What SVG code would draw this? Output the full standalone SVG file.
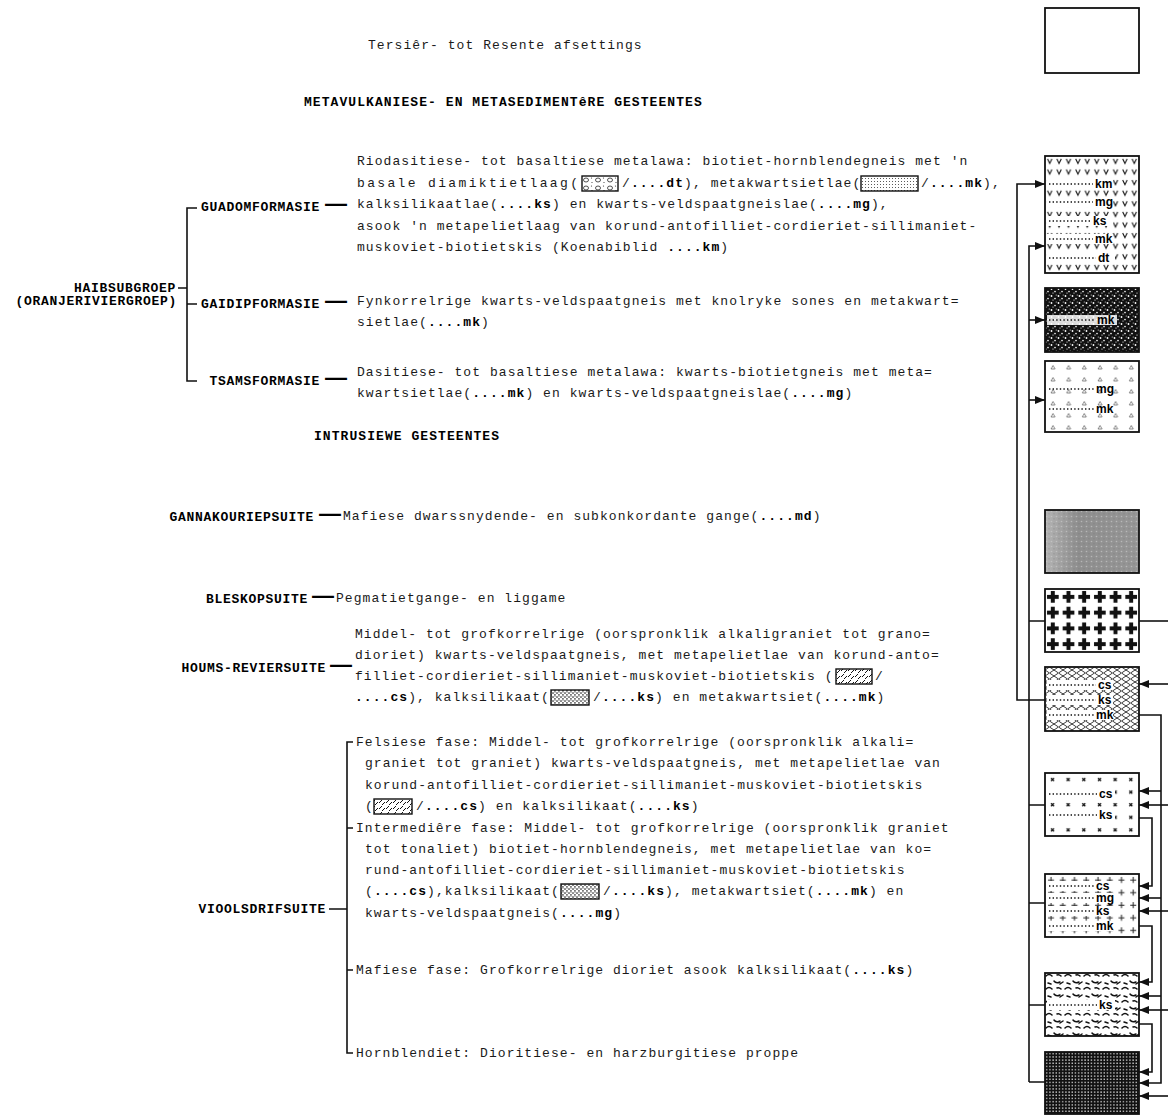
<svg xmlns="http://www.w3.org/2000/svg" width="1168" height="1115" viewBox="0 0 1168 1115">
<defs>
<style>
.t{font-family:"Liberation Mono","DejaVu Sans Mono",monospace;font-size:13px;letter-spacing:1.06px;fill:#1a1a1a}
.b{font-weight:bold;fill:#000}
.lab{font-family:"Liberation Mono","DejaVu Sans Mono",monospace;font-size:13px;font-weight:bold;letter-spacing:0.7px;fill:#000}
.dash{font-family:"Liberation Sans",Arial,sans-serif;font-size:22px;letter-spacing:0}
.ln{stroke:#111;stroke-width:1.6;fill:none}
.box{stroke:#111;stroke-width:1.8}
.ibox{stroke:#111;stroke-width:1.4}
.code{font-family:"Liberation Sans",Arial,sans-serif;font-weight:bold;font-size:12px;fill:#000}
.dot{stroke:#111;stroke-width:1.4;stroke-dasharray:1.4 2.2;fill:none}
.band{fill:#fff}
</style>
<marker id="ah" markerWidth="10" markerHeight="8" refX="10" refY="4" orient="auto" markerUnits="userSpaceOnUse"><path d="M0,0 L10,4 L0,8 z" fill="#111"/></marker>
<pattern id="pV" patternUnits="userSpaceOnUse" x="1045" y="156" width="9.4" height="10.6"><rect width="9.4" height="10.6" fill="#fff"/><path d="M2.5,3 L4.7,7.5 L6.9,3" fill="none" stroke="#111" stroke-width="1.1"/></pattern>
<pattern id="pDark" patternUnits="userSpaceOnUse" x="0" y="0" width="7" height="7"><rect width="7" height="7" fill="#111"/><circle cx="1.5" cy="2" r="0.9" fill="#fff"/><circle cx="5" cy="4.6" r="0.8" fill="#fff"/><circle cx="3" cy="6" r="0.6" fill="#fff"/><circle cx="6.2" cy="1" r="0.5" fill="#fff"/></pattern>
<pattern id="pTri" patternUnits="userSpaceOnUse" x="1045" y="361" width="15.67" height="12"><rect width="15.67" height="12" fill="#fff"/><path d="M6,8 L8,4.5 L10,8 Z" fill="none" stroke="#555" stroke-width="0.7"/></pattern>
<pattern id="pGreyDots" patternUnits="userSpaceOnUse" x="0" y="0" width="5" height="5"><circle cx="1.5" cy="1.5" r="0.8" fill="#d0d0d0" fill-opacity="0.6"/><circle cx="4" cy="3.8" r="0.6" fill="#666" fill-opacity="0.5"/></pattern>
<linearGradient id="gGrey" x1="0" y1="0" x2="1" y2="0"><stop offset="0" stop-color="#b4b4b4"/><stop offset="0.35" stop-color="#8e8e8e"/><stop offset="1" stop-color="#969696"/></linearGradient>
<pattern id="pCross" patternUnits="userSpaceOnUse" x="1045" y="589" width="15.67" height="15.75"><rect width="15.67" height="15.75" fill="#fff"/><rect x="2" y="5.9" width="11.7" height="4" fill="#111"/><rect x="5.8" y="2" width="4" height="11.7" fill="#111"/></pattern>
<pattern id="pLat" patternUnits="userSpaceOnUse" x="1045" y="667" width="9" height="6"><rect width="9" height="6" fill="#fff"/><path d="M0,3 L4.5,0 L9,3 L4.5,6 Z" fill="none" stroke="#222" stroke-width="0.9"/></pattern>
<pattern id="pX" patternUnits="userSpaceOnUse" x="1045" y="773" width="15.67" height="12.6"><rect width="15.67" height="12.6" fill="#fff"/><path d="M6,5 l3,3 M9,5 l-3,3" stroke="#111" stroke-width="1.3"/></pattern>
<pattern id="pPlus" patternUnits="userSpaceOnUse" x="1045" y="874" width="11.75" height="12.6"><rect width="11.75" height="12.6" fill="#fff"/><path d="M6,3 v6 M3,6 h6" stroke="#222" stroke-width="1"/></pattern>
<pattern id="pWorm" patternUnits="userSpaceOnUse" x="1045" y="973" width="19" height="13"><rect width="19" height="13" fill="#fff"/><path d="M1,3 q3,-3 6,0 M9,8 q2,3 6,1 M3,10 l3,1 M12,2 q2,-1 4,1 M15,11 l3,-2" fill="none" stroke="#111" stroke-width="1.5" stroke-linecap="round"/></pattern>
<pattern id="pGrid" patternUnits="userSpaceOnUse" x="1045" y="1052" width="3.2" height="3.2"><rect width="3.2" height="3.2" fill="#111"/><rect x="1.1" y="1.1" width="1.2" height="1.2" fill="#fff"/></pattern>
<pattern id="pDiam" patternUnits="userSpaceOnUse" x="582" y="176" width="12" height="8"><rect width="12" height="8" fill="#fff"/><ellipse cx="4" cy="4" rx="2.5" ry="2" fill="none" stroke="#222" stroke-width="0.8"/><circle cx="9.5" cy="2" r="0.6" fill="#333"/><circle cx="10" cy="6.5" r="0.6" fill="#333"/></pattern>
<pattern id="pFine" patternUnits="userSpaceOnUse" x="0" y="0" width="3" height="3"><rect width="3" height="3" fill="#fff"/><rect x="1" y="1" width="0.9" height="0.9" fill="#333"/></pattern>
<pattern id="pSchist" patternUnits="userSpaceOnUse" x="0" y="0" width="7" height="6"><rect width="7" height="6" fill="#fff"/><path d="M1,5 l3,-3 M5,6 l2,-2 M4,1 l1,-1" stroke="#111" stroke-width="1"/></pattern>
<pattern id="pSpeck" patternUnits="userSpaceOnUse" x="0" y="0" width="4" height="4"><rect width="4" height="4" fill="#fff"/><rect x="0.3" y="0.4" width="1.4" height="1.3" fill="#111"/><rect x="2.3" y="2.2" width="1.3" height="1.4" fill="#111"/><rect x="2.6" y="0.2" width="0.8" height="0.8" fill="#555"/></pattern>
</defs>
<rect width="1168" height="1115" fill="#fff"/>

<g id="headings">
<text class="t" x="368" y="49">Tersiêr- tot Resente afsettings</text>
<text class="t b" x="304" y="106">METAVULKANIESE- EN METASEDIMENTêRE GESTEENTES</text>
<text class="t b" x="314" y="440">INTRUSIEWE GESTEENTES</text>
</g>

<g id="brackets" class="ln">
<path d="M197,208 H187 V381 H197 M187,304 H197 M178,288 H187"/>
<path d="M353,742 H347 V1053 H353 M347,828 H353 M347,970 H353 M329,909 H347"/>
</g>

<g id="haibsubgroep">
<text class="lab" x="176" y="292" text-anchor="end">HAIBSUBGROEP</text>
<text class="lab" x="177" y="305" text-anchor="end">(ORANJERIVIERGROEP)</text>
</g>

<g id="guadom">
<text class="lab" x="347" y="211" text-anchor="end">GUADOMFORMASIE<tspan class="dash" dx="5">—</tspan></text>
<text class="t" x="357" y="165">Riodasitiese- tot basaltiese metalawa: biotiet-hornblendegneis met 'n</text>
<text class="t" x="357" y="187" textLength="222" lengthAdjust="spacing">basale diamiktietlaag(</text>
<rect x="582" y="176" width="36" height="15" fill="url(#pDiam)" class="ibox"/>
<text class="t" x="622" y="187">/<tspan class="b">....dt</tspan>), metakwartsietlae(</text>
<rect x="861" y="176" width="57" height="15" fill="url(#pFine)" class="ibox"/>
<text class="t" x="921" y="187">/<tspan class="b">....mk</tspan>),</text>
<text class="t" x="357" y="208">kalksilikaatlae(<tspan class="b">....ks</tspan>) en kwarts-veldspaatgneislae(<tspan class="b">....mg</tspan>),</text>
<text class="t" x="357" y="230">asook 'n metapelietlaag van korund-antofilliet-cordieriet-sillimaniet-</text>
<text class="t" x="357" y="251">muskoviet-biotietskis (Koenabiblid <tspan class="b">....km</tspan>)</text>
</g>

<g id="gaidip">
<text class="lab" x="347" y="308" text-anchor="end">GAIDIPFORMASIE<tspan class="dash" dx="5">—</tspan></text>
<text class="t" x="357" y="305">Fynkorrelrige kwarts-veldspaatgneis met knolryke sones en metakwart=</text>
<text class="t" x="357" y="326">sietlae(<tspan class="b">....mk</tspan>)</text>
</g>

<g id="tsams">
<text class="lab" x="347" y="385" text-anchor="end">TSAMSFORMASIE<tspan class="dash" dx="5">—</tspan></text>
<text class="t" x="357" y="376">Dasitiese- tot basaltiese metalawa: kwarts-biotietgneis met meta=</text>
<text class="t" x="357" y="397">kwartsietlae(<tspan class="b">....mk</tspan>) en kwarts-veldspaatgneislae(<tspan class="b">....mg</tspan>)</text>
</g>

<g id="gannakouriep">
<text class="lab" x="341" y="521" text-anchor="end">GANNAKOURIEPSUITE<tspan class="dash" dx="5">—</tspan></text>
<text class="t" x="343" y="520">Mafiese dwarssnydende- en subkonkordante gange(<tspan class="b">....md</tspan>)</text>
</g>

<g id="bleskop">
<text class="lab" x="334" y="603" text-anchor="end">BLESKOPSUITE<tspan class="dash" dx="4">—</tspan></text>
<text class="t" x="336" y="602">Pegmatietgange- en liggame</text>
</g>

<g id="houms">
<text class="lab" x="352" y="672" text-anchor="end">HOUMS-REVIERSUITE<tspan class="dash" dx="4">—</tspan></text>
<text class="t" x="355" y="638">Middel- tot grofkorrelrige (oorspronklik alkaligraniet tot grano=</text>
<text class="t" x="355" y="659">dioriet)  kwarts-veldspaatgneis, met metapelietlae van korund-anto=</text>
<text class="t" x="355" y="680">filliet-cordieriet-sillimaniet-muskoviet-biotietskis (</text>
<rect x="836" y="669" width="36" height="15" fill="url(#pSchist)" class="ibox"/>
<text class="t" x="875" y="680">/</text>
<text class="t" x="355" y="701"><tspan class="b">....cs</tspan>), kalksilikaat(</text>
<rect x="551" y="690" width="38" height="15" fill="url(#pSpeck)" class="ibox"/>
<text class="t" x="593" y="701">/<tspan class="b">....ks</tspan>) en metakwartsiet(<tspan class="b">....mk</tspan>)</text>
</g>

<g id="vioolsdrif">
<text class="lab" x="326" y="913" text-anchor="end">VIOOLSDRIFSUITE</text>
<g id="felsies">
<text class="t" x="356" y="746">Felsiese fase: Middel- tot grofkorrelrige (oorspronklik alkali=</text>
<text class="t" x="365" y="767">graniet tot graniet) kwarts-veldspaatgneis, met metapelietlae van</text>
<text class="t" x="365" y="789">korund-antofilliet-cordieriet-sillimaniet-muskoviet-biotietskis</text>
<text class="t" x="365" y="810">(</text>
<rect x="374" y="799" width="38" height="15" fill="url(#pSchist)" class="ibox"/>
<text class="t" x="416" y="810">/<tspan class="b">....cs</tspan>) en kalksilikaat(<tspan class="b">....ks</tspan>)</text>
</g>
<g id="intermediere">
<text class="t" x="356" y="832">Intermediêre fase: Middel- tot grofkorrelrige (oorspronklik graniet</text>
<text class="t" x="365" y="853">tot tonaliet) biotiet-hornblendegneis, met metapelietlae van ko=</text>
<text class="t" x="365" y="874">rund-antofilliet-cordieriet-sillimaniet-muskoviet-biotietskis</text>
<text class="t" x="365" y="895">(<tspan class="b">....cs</tspan>),kalksilikaat(</text>
<rect x="561" y="884" width="38" height="15" fill="url(#pSpeck)" class="ibox"/>
<text class="t" x="603" y="895">/<tspan class="b">....ks</tspan>), metakwartsiet(<tspan class="b">....mk</tspan>) en</text>
<text class="t" x="365" y="917">kwarts-veldspaatgneis(<tspan class="b">....mg</tspan>)</text>
</g>
<g id="mafies">
<text class="t" x="356" y="974">Mafiese fase: Grofkorrelrige dioriet asook kalksilikaat(<tspan class="b">....ks</tspan>)</text>
</g>
<g id="hornblendiet">
<text class="t" x="356" y="1057">Hornblendiet: Dioritiese- en harzburgitiese proppe</text>
</g>
</g>

<g id="legend">
<g id="leg-tersier"><rect x="1045" y="8" width="94" height="65" fill="#fff" class="box"/></g>
<g id="leg-guadom">
<rect x="1045" y="156" width="94" height="117" fill="url(#pV)" class="box"/>
<rect x="1047" y="179" width="66" height="10" class="band"/><line x1="1049" y1="184" x2="1093" y2="184" class="dot"/><text class="code" x="1095" y="188">km</text>
<rect x="1047" y="197" width="66" height="10" class="band"/><line x1="1049" y1="202" x2="1093" y2="202" class="dot"/><text class="code" x="1095" y="206">mg</text>
<rect x="1047" y="216" width="66" height="10" class="band"/><line x1="1049" y1="221" x2="1092" y2="221" class="dot"/><text class="code" x="1093" y="225">ks</text>
<rect x="1047" y="234" width="66" height="10" class="band"/><line x1="1049" y1="239" x2="1093" y2="239" class="dot"/><text class="code" x="1095" y="243">mk</text>
<rect x="1047" y="253" width="68" height="10" class="band"/><line x1="1049" y1="258" x2="1096" y2="258" class="dot"/><text class="code" x="1098" y="262">dt</text>
</g>
<g id="leg-gaidip">
<rect x="1045" y="288" width="94" height="64" fill="url(#pDark)" class="box"/>
<rect x="1047" y="315" width="70" height="10" fill="#fff" fill-opacity="0.85"/><line x1="1049" y1="320" x2="1095" y2="320" class="dot"/><text class="code" x="1097" y="324">mk</text>
</g>
<g id="leg-tsams">
<rect x="1045" y="361" width="94" height="71" fill="url(#pTri)" class="box"/>
<line x1="1049" y1="389" x2="1094" y2="389" class="dot"/><text class="code" x="1096" y="393">mg</text>
<line x1="1049" y1="409" x2="1094" y2="409" class="dot"/><text class="code" x="1096" y="413">mk</text>
</g>
<g id="leg-gannakouriep">
<rect x="1045" y="510" width="94" height="63" fill="url(#gGrey)" class="box"/>
<rect x="1046" y="511" width="92" height="61" fill="url(#pGreyDots)"/>
</g>
<g id="leg-bleskop"><rect x="1045" y="589" width="94" height="63" fill="url(#pCross)" class="box"/></g>
<g id="leg-houms">
<rect x="1045" y="667" width="94" height="64" fill="url(#pLat)" class="box"/>
<rect x="1047" y="680" width="66" height="10" class="band"/><line x1="1049" y1="685" x2="1096" y2="685" class="dot"/><text class="code" x="1098" y="689">cs</text>
<rect x="1047" y="695" width="66" height="10" class="band"/><line x1="1049" y1="700" x2="1096" y2="700" class="dot"/><text class="code" x="1098" y="704">ks</text>
<rect x="1047" y="710" width="66" height="10" class="band"/><line x1="1049" y1="715" x2="1094" y2="715" class="dot"/><text class="code" x="1096" y="719">mk</text>
</g>
<g id="leg-felsies">
<rect x="1045" y="773" width="94" height="63" fill="url(#pX)" class="box"/>
<rect x="1047" y="789" width="68" height="10" class="band"/><line x1="1049" y1="794" x2="1097" y2="794" class="dot"/><text class="code" x="1099" y="798">cs</text>
<rect x="1047" y="810" width="68" height="10" class="band"/><line x1="1049" y1="815" x2="1097" y2="815" class="dot"/><text class="code" x="1099" y="819">ks</text>
</g>
<g id="leg-intermediere">
<rect x="1045" y="874" width="94" height="63" fill="url(#pPlus)" class="box"/>
<rect x="1047" y="881" width="66" height="10" class="band"/><line x1="1049" y1="886" x2="1094" y2="886" class="dot"/><text class="code" x="1096" y="890">cs</text>
<rect x="1047" y="893" width="66" height="10" class="band"/><line x1="1049" y1="898" x2="1094" y2="898" class="dot"/><text class="code" x="1096" y="902">mg</text>
<rect x="1047" y="906" width="66" height="10" class="band"/><line x1="1049" y1="911" x2="1094" y2="911" class="dot"/><text class="code" x="1096" y="915">ks</text>
<rect x="1047" y="921" width="66" height="10" class="band"/><line x1="1049" y1="926" x2="1094" y2="926" class="dot"/><text class="code" x="1096" y="930">mk</text>
</g>
<g id="leg-mafies">
<rect x="1045" y="973" width="94" height="63" fill="url(#pWorm)" class="box"/>
<rect x="1047" y="1000" width="68" height="10" class="band"/><line x1="1049" y1="1005" x2="1097" y2="1005" class="dot"/><text class="code" x="1099" y="1009">ks</text>
</g>
<g id="leg-hornblendiet"><rect x="1045" y="1052" width="94" height="62" fill="url(#pGrid)" class="box"/></g>
</g>

<g id="connectors" class="ln">
<path d="M1045,700 H1017 V184 H1045" marker-end="url(#ah)"/>
<path d="M1029,1082 V246 H1045" marker-end="url(#ah)"/>
<path d="M1029,320 H1045" marker-end="url(#ah)"/>
<path d="M1029,400 H1045" marker-end="url(#ah)"/>
<path d="M1029,621 H1045 M1029,805 H1045 M1029,903 H1045 M1029,1005 H1045 M1029,1082 H1045"/>
<path d="M1139,621 H1168"/>
<path d="M1168,684 H1139" marker-end="url(#ah)"/>
<path d="M1139,715 H1161 V1083 H1139" marker-end="url(#ah)"/>
<path d="M1161,791 H1139" marker-end="url(#ah)"/>
<path d="M1161,898 H1139" marker-end="url(#ah)"/>
<path d="M1161,996 H1139" marker-end="url(#ah)"/>
<path d="M1139,818 H1152 V886 H1139" marker-end="url(#ah)"/>
<path d="M1139,926 H1152 V982 H1139" marker-end="url(#ah)"/>
<path d="M1139,1024 H1152 V1072 H1139" marker-end="url(#ah)"/>
<path d="M1168,805 H1139" marker-end="url(#ah)"/>
<path d="M1168,911 H1139" marker-end="url(#ah)"/>
<path d="M1168,1010 H1139" marker-end="url(#ah)"/>
<path d="M1168,1096 H1139" marker-end="url(#ah)"/>
</g>
</svg>
